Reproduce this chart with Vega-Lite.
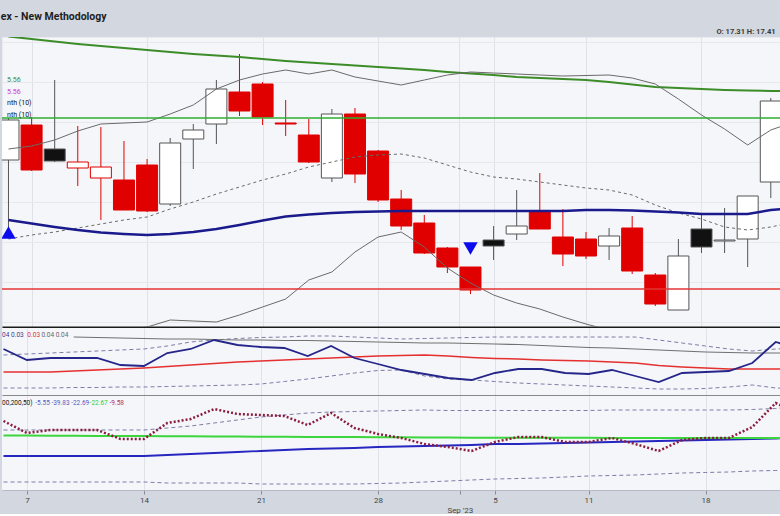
{
  "$schema": "https://vega.github.io/schema/vega-lite/v6.json",
  "background": "#d3d7df",
  "padding": {"top": 12, "left": 0, "right": 0, "bottom": 0},
  "title": {"text": "ex - New Methodology", "anchor": "start", "fontSize": 10.5, "fontWeight": "bold", "color": "#1e1e1e", "font": "Roboto", "offset": 4},
  "config": {"font": "Roboto", "view": {"stroke": null}},
  "spacing": 0,
  "datasets": {
    "main": [
      {"i":0,"o":16.25,"h":17.3,"l":14.575,"c":17.25,"col":"black","fill":"hollow","ma200":19.3375,"bbu":16.525,"bbm":14.275,"bbl":11.95,"ma50":14.75,"sig":"up","sigv":14.4375},
      {"i":1,"o":17.125,"h":17.325,"l":15.975,"c":16.0,"col":"red","fill":"red","ma200":19.275,"bbu":16.6,"bbm":14.375,"bbl":12.0,"ma50":14.6625},
      {"i":2,"o":16.525,"h":18.25,"l":16.2,"c":16.225,"col":"black","fill":"black","ma200":19.2125,"bbu":16.75,"bbm":14.45,"bbl":11.975,"ma50":14.575},
      {"i":3,"o":16.05,"h":17.1,"l":15.6,"c":16.2,"col":"red","fill":"hollow","ma200":19.15,"bbu":16.975,"bbm":14.55,"bbl":11.95,"ma50":14.5},
      {"i":4,"o":15.8,"h":17.075,"l":14.75,"c":16.075,"col":"red","fill":"hollow","ma200":19.1,"bbu":17.15,"bbm":14.65,"bbl":12.0,"ma50":14.4375},
      {"i":5,"o":15.75,"h":16.725,"l":15.0,"c":15.0,"col":"red","fill":"red","ma200":19.05,"bbu":17.175,"bbm":14.75,"bbl":12.025,"ma50":14.4},
      {"i":6,"o":16.125,"h":16.275,"l":14.95,"c":14.975,"col":"red","fill":"red","ma200":19.0,"bbu":17.2,"bbm":14.825,"bbl":12.075,"ma50":14.375},
      {"i":7,"o":15.15,"h":16.8,"l":15.1,"c":16.675,"col":"black","fill":"hollow","ma200":18.95,"bbu":17.4,"bbm":15.025,"bbl":12.25,"ma50":14.4},
      {"i":8,"o":16.775,"h":17.15,"l":16.025,"c":17.0,"col":"black","fill":"hollow","ma200":18.9,"bbu":17.625,"bbm":15.2,"bbl":12.225,"ma50":14.45},
      {"i":9,"o":17.15,"h":18.25,"l":16.65,"c":18.025,"col":"black","fill":"hollow","ma200":18.8625,"bbu":18.025,"bbm":15.4,"bbl":12.2,"ma50":14.525},
      {"i":10,"o":17.95,"h":18.9,"l":17.35,"c":17.475,"col":"red","fill":"red","ma200":18.825,"bbu":18.25,"bbm":15.575,"bbl":12.375,"ma50":14.625},
      {"i":11,"o":18.15,"h":18.2,"l":17.125,"c":17.325,"col":"red","fill":"red","ma200":18.775,"bbu":18.4,"bbm":15.75,"bbl":12.575,"ma50":14.7375},
      {"i":12,"o":17.175,"h":17.75,"l":16.85,"c":17.15,"col":"red","fill":"red","ma200":18.725,"bbu":18.5,"bbm":15.9,"bbl":12.775,"ma50":14.8375},
      {"i":13,"o":16.875,"h":17.275,"l":16.175,"c":16.2,"col":"red","fill":"red","ma200":18.6875,"bbu":18.4,"bbm":16.075,"bbl":13.25,"ma50":14.8875},
      {"i":14,"o":15.8,"h":17.525,"l":15.7,"c":17.4,"col":"black","fill":"hollow","ma200":18.65,"bbu":18.5,"bbm":16.2,"bbl":13.45,"ma50":14.925},
      {"i":15,"o":17.4,"h":17.55,"l":15.675,"c":15.9,"col":"red","fill":"red","ma200":18.6125,"bbu":18.325,"bbm":16.325,"bbl":13.95,"ma50":14.95},
      {"i":16,"o":16.475,"h":16.5,"l":15.2,"c":15.25,"col":"red","fill":"red","ma200":18.575,"bbu":18.225,"bbm":16.375,"bbl":14.325,"ma50":14.9625},
      {"i":17,"o":15.275,"h":15.5,"l":14.5,"c":14.6,"col":"red","fill":"red","ma200":18.5375,"bbu":18.125,"bbm":16.4,"bbl":14.45,"ma50":14.975},
      {"i":18,"o":14.675,"h":14.875,"l":13.9,"c":13.925,"col":"red","fill":"red","ma200":18.5,"bbu":18.25,"bbm":16.3,"bbl":14.075,"ma50":14.975},
      {"i":19,"o":14.05,"h":14.075,"l":13.425,"c":13.575,"col":"red","fill":"red","ma200":18.45,"bbu":18.375,"bbm":16.125,"bbl":13.55,"ma50":14.975},
      {"i":20,"o":13.575,"h":13.575,"l":12.9,"c":13.0,"col":"red","fill":"red","ma200":18.4125,"bbu":18.45,"bbm":15.95,"bbl":13.175,"ma50":14.975,"sig":"down","sigv":14.0375},
      {"i":21,"o":14.25,"h":14.6,"l":13.75,"c":14.1,"col":"black","fill":"black","ma200":18.375,"bbu":18.425,"bbm":15.825,"bbl":12.875,"ma50":14.975},
      {"i":22,"o":14.4,"h":15.5,"l":14.25,"c":14.6,"col":"black","fill":"hollow","ma200":18.325,"bbu":18.4,"bbm":15.775,"bbl":12.675,"ma50":14.975},
      {"i":23,"o":14.975,"h":15.925,"l":14.525,"c":14.525,"col":"red","fill":"red","ma200":18.3,"bbu":18.375,"bbm":15.7,"bbl":12.525,"ma50":14.975},
      {"i":24,"o":14.325,"h":15.025,"l":13.6,"c":13.9,"col":"red","fill":"red","ma200":18.275,"bbu":18.35,"bbm":15.625,"bbl":12.325,"ma50":14.975},
      {"i":25,"o":14.275,"h":14.45,"l":13.775,"c":13.85,"col":"red","fill":"red","ma200":18.25,"bbu":18.3625,"bbm":15.55,"bbl":12.15,"ma50":15.0},
      {"i":26,"o":14.1,"h":14.55,"l":13.75,"c":14.35,"col":"black","fill":"hollow","ma200":18.2,"bbu":18.375,"bbm":15.5,"bbl":12.0,"ma50":15.0},
      {"i":27,"o":14.55,"h":14.85,"l":13.4,"c":13.475,"col":"red","fill":"red","ma200":18.1375,"bbu":18.3,"bbm":15.375,"bbl":11.875,"ma50":14.9875},
      {"i":28,"o":13.375,"h":13.425,"l":12.6,"c":12.65,"col":"red","fill":"red","ma200":18.075,"bbu":18.15,"bbm":15.125,"bbl":11.75,"ma50":14.9625},
      {"i":29,"o":12.5,"h":14.275,"l":12.5,"c":13.85,"col":"black","fill":"hollow","ma200":18.05,"bbu":17.775,"bbm":14.925,"bbl":11.875,"ma50":14.9375},
      {"i":30,"o":14.525,"h":14.9,"l":13.925,"c":14.075,"col":"black","fill":"black","ma200":18.025,"bbu":17.375,"bbm":14.775,"bbl":12.0,"ma50":14.9},
      {"i":31,"o":14.225,"h":15.05,"l":13.925,"c":14.25,"col":"black","fill":"hollow","ma200":18.0,"bbu":17.025,"bbm":14.575,"bbl":12.0,"ma50":14.9},
      {"i":32,"o":14.275,"h":15.35,"l":13.575,"c":15.35,"col":"black","fill":"hollow","ma200":17.9875,"bbu":16.625,"bbm":14.5,"bbl":12.05,"ma50":14.9},
      {"i":33,"o":15.7,"h":17.8,"l":15.3,"c":17.725,"col":"black","fill":"hollow","ma200":17.975,"bbu":17.0,"bbm":14.575,"bbl":12.0,"ma50":15.0},
      {"i":34,"ma200":17.97,"bbu":17.2,"bbm":14.7,"bbl":11.9,"ma50":15.05}
    ],
    "p2": [
      {"i":0,"nv":0.040,"rd":0.0285,"du":0.037,"dl":0.0205},
      {"i":1,"nv":0.0345,"rd":0.0285,"du":0.0375,"dl":0.0205},
      {"i":2,"nv":0.0355,"rd":0.0285,"du":0.038,"dl":0.0205},
      {"i":3,"nv":0.0355,"rd":0.029,"gy":0.046,"du":0.0385,"dl":0.02075},
      {"i":4,"nv":0.0355,"rd":0.0295,"gy":0.04575,"du":0.039,"dl":0.02075},
      {"i":5,"nv":0.032,"rd":0.030,"gy":0.0455,"du":0.0395,"dl":0.021},
      {"i":6,"nv":0.0315,"rd":0.0305,"gy":0.04525,"du":0.040,"dl":0.021},
      {"i":7,"nv":0.038,"rd":0.03125,"gy":0.045,"du":0.0415,"dl":0.02125},
      {"i":8,"nv":0.040,"rd":0.032,"gy":0.045,"du":0.0435,"dl":0.0215},
      {"i":9,"nv":0.0445,"rd":0.03275,"gy":0.04475,"du":0.0445,"dl":0.02175},
      {"i":10,"nv":0.042,"rd":0.0335,"gy":0.0445,"du":0.04525,"dl":0.022},
      {"i":11,"nv":0.041,"rd":0.034,"gy":0.0445,"du":0.04575,"dl":0.0225},
      {"i":12,"nv":0.0405,"rd":0.0345,"gy":0.04425,"du":0.046,"dl":0.02375},
      {"i":13,"nv":0.0365,"rd":0.035,"gy":0.04425,"du":0.0465,"dl":0.025},
      {"i":14,"nv":0.0415,"rd":0.0355,"gy":0.044,"du":0.0465,"dl":0.0265},
      {"i":15,"nv":0.0355,"rd":0.036,"gy":0.04375,"du":0.046,"dl":0.028},
      {"i":16,"nv":0.0325,"rd":0.0365,"gy":0.0435,"du":0.0455,"dl":0.02925},
      {"i":17,"nv":0.0295,"rd":0.03675,"gy":0.04325,"du":0.045,"dl":0.0295},
      {"i":18,"nv":0.0275,"rd":0.037,"gy":0.043,"du":0.04525,"dl":0.0265},
      {"i":19,"nv":0.0255,"rd":0.0365,"gy":0.043,"du":0.0455,"dl":0.025},
      {"i":20,"nv":0.0245,"rd":0.03575,"gy":0.04275,"du":0.04575,"dl":0.0245},
      {"i":21,"nv":0.028,"rd":0.03525,"gy":0.0425,"du":0.046,"dl":0.02375},
      {"i":22,"nv":0.030,"rd":0.035,"gy":0.04225,"du":0.046,"dl":0.023},
      {"i":23,"nv":0.030,"rd":0.0345,"gy":0.04175,"du":0.046,"dl":0.0225},
      {"i":24,"nv":0.028,"rd":0.03425,"gy":0.04125,"du":0.046,"dl":0.022},
      {"i":25,"nv":0.0275,"rd":0.034,"gy":0.04075,"du":0.046,"dl":0.0215},
      {"i":26,"nv":0.0295,"rd":0.0335,"gy":0.0405,"du":0.046,"dl":0.021},
      {"i":27,"nv":0.0265,"rd":0.033,"gy":0.040,"du":0.046,"dl":0.0205},
      {"i":28,"nv":0.0235,"rd":0.03175,"gy":0.0395,"du":0.0445,"dl":0.020},
      {"i":29,"nv":0.028,"rd":0.031,"gy":0.039,"du":0.043,"dl":0.020},
      {"i":30,"nv":0.0285,"rd":0.0305,"gy":0.0385,"du":0.0415,"dl":0.02025},
      {"i":31,"nv":0.029,"rd":0.030,"gy":0.03825,"du":0.040,"dl":0.021},
      {"i":32,"nv":0.033,"rd":0.030,"gy":0.038,"du":0.039,"dl":0.022},
      {"i":33,"nv":0.0435,"rd":0.030,"gy":0.038,"du":0.040,"dl":0.0205},
      {"i":34,"nv":0.040,"rd":0.030,"gy":0.038,"du":0.0405,"dl":0.020}
    ],
    "p3": [
      {"i":0,"dot":-13.56,"gr":-21.3,"bl":-32.32,"du":-18.38,"dl":-46.25},
      {"i":1,"dot":-19.99,"gr":-21.36,"bl":-32.32,"du":-18.38,"dl":-46.25},
      {"i":2,"dot":-18.38,"gr":-21.42,"bl":-32.32,"du":-18.38,"dl":-46.25},
      {"i":3,"dot":-18.38,"gr":-21.48,"bl":-32.32,"du":-18.38,"dl":-46.25},
      {"i":4,"dot":-18.38,"gr":-21.54,"bl":-32.32,"du":-18.38,"dl":-46.25},
      {"i":5,"dot":-23.21,"gr":-21.6,"bl":-32.32,"du":-18.38,"dl":-46.25},
      {"i":6,"dot":-23.21,"gr":-21.66,"bl":-32.32,"du":-18.38,"dl":-46.25},
      {"i":7,"dot":-14.63,"gr":-21.72,"bl":-31.78,"du":-17.31,"dl":-46.79},
      {"i":8,"dot":-12.49,"gr":-21.78,"bl":-31.25,"du":-16.24,"dl":-46.79},
      {"i":9,"dot":-7.13,"gr":-21.84,"bl":-30.71,"du":-14.63,"dl":-46.79},
      {"i":10,"dot":-9.81,"gr":-21.9,"bl":-30.17,"du":-13.02,"dl":-46.79},
      {"i":11,"dot":-10.34,"gr":-21.96,"bl":-29.64,"du":-11.41,"dl":-47.33},
      {"i":12,"dot":-10.88,"gr":-22.02,"bl":-29.1,"du":-10.34,"dl":-47.33},
      {"i":13,"dot":-15.7,"gr":-22.08,"bl":-28.57,"du":-9.27,"dl":-47.33},
      {"i":14,"dot":-9.27,"gr":-22.14,"bl":-28.3,"du":-8.73,"dl":-47.33},
      {"i":15,"dot":-17.31,"gr":-22.2,"bl":-28.03,"du":-8.47,"dl":-47.33},
      {"i":16,"dot":-20.53,"gr":-22.26,"bl":-27.49,"du":-8.2,"dl":-47.06},
      {"i":17,"dot":-22.67,"gr":-22.32,"bl":-27.23,"du":-7.93,"dl":-46.79},
      {"i":18,"dot":-25.89,"gr":-22.38,"bl":-26.96,"du":-7.66,"dl":-46.25},
      {"i":19,"dot":-27.49,"gr":-22.44,"bl":-26.69,"du":-7.93,"dl":-45.72},
      {"i":20,"dot":-29.64,"gr":-22.5,"bl":-26.42,"du":-7.93,"dl":-45.18},
      {"i":21,"dot":-24.81,"gr":-22.52,"bl":-25.89,"du":-7.93,"dl":-44.65},
      {"i":22,"dot":-22.13,"gr":-22.54,"bl":-25.89,"du":-7.93,"dl":-44.38},
      {"i":23,"dot":-22.13,"gr":-22.56,"bl":-25.62,"du":-7.93,"dl":-44.11},
      {"i":24,"dot":-24.81,"gr":-22.58,"bl":-25.35,"du":-7.93,"dl":-43.57},
      {"i":25,"dot":-24.81,"gr":-22.6,"bl":-25.08,"du":-7.93,"dl":-43.04},
      {"i":26,"dot":-22.67,"gr":-22.61,"bl":-24.81,"du":-7.66,"dl":-42.77},
      {"i":27,"dot":-25.89,"gr":-22.62,"bl":-24.55,"du":-7.66,"dl":-42.5},
      {"i":28,"dot":-29.64,"gr":-22.63,"bl":-24.28,"du":-7.66,"dl":-41.97},
      {"i":29,"dot":-23.74,"gr":-22.64,"bl":-24.01,"du":-7.66,"dl":-41.43},
      {"i":30,"dot":-22.67,"gr":-22.65,"bl":-23.74,"du":-7.66,"dl":-41.16},
      {"i":31,"dot":-22.67,"gr":-22.66,"bl":-23.47,"du":-7.66,"dl":-40.89},
      {"i":32,"dot":-16.77,"gr":-22.66,"bl":-23.21,"du":-7.39,"dl":-40.36},
      {"i":33,"dot":-3.91,"gr":-22.67,"bl":-22.94,"du":-6.86,"dl":-40.09},
      {"i":34,"dot":-9.58,"gr":-22.67,"bl":-22.69,"du":-5.55,"dl":-39.83}
    ],
    "levels": [
      {"lvl": 17.3, "k": "g"},
      {"lvl": 13.025, "k": "r"}
    ],
    "notes": [
      {"p":1,"i":-0.06,"v":18.25,"t":"5.56","k":"g"},
      {"p":1,"i":-0.06,"v":17.95,"t":"5.56","k":"m"},
      {"p":1,"i":-0.06,"v":17.675,"t":"nth (10)","k":"k"},
      {"p":1,"i":-0.06,"v":17.375,"t":"nth (10)","k":"k"},
      {"p":2,"i":-0.06,"v":0.047,"t":"04 0.03","k":"n"},
      {"p":2,"i":1.02,"v":0.047,"t":"0.03","k":"r"},
      {"p":2,"i":1.62,"v":0.047,"t":"0.04 0.04","k":"gy"},
      {"p":3,"i":-0.06,"v":-3.91,"t":"00,200,50)","k":"k"},
      {"p":3,"i":1.36,"v":-3.91,"t":"-5.55 -39.83 -22.69","k":"b"},
      {"p":3,"i":3.68,"v":-3.91,"t":"-22.67","k":"gr"},
      {"p":3,"i":4.53,"v":-3.91,"t":"-9.58","k":"pk"}
    ]
  },
  "vconcat": [
    {
      "width": 780,
      "height": 290,
      "view": {"fill": "#f5f6fa", "stroke": "#e9ebf0"},
      "resolve": {"axis": {"x": "independent", "y": "independent"}},
      "layer": [
        {
          "data": {"name": "main"},
          "transform": [{"filter": "datum.o != null"}],
          "mark": {"type": "rule", "clip": true, "strokeWidth": 1},
          "encoding": {
            "x": {"field": "i", "type": "quantitative", "scale": {"domain": [-0.0641, 33.269], "nice": false, "zero": false},
                  "axis": {"orient": "bottom", "values": [1, 6, 11, 16, 19.5, 21, 25, 30], "grid": true, "gridColor": "#dfe2e9", "labels": false, "ticks": false, "domain": true, "domainColor": "#1b1b1b", "domainWidth": 2, "title": null}},
            "y": {"field": "l", "type": "quantitative", "scale": {"domain": [12.075, 19.325], "nice": false, "zero": false},
                  "axis": {"title": null, "labels": false, "ticks": false, "domain": false, "grid": true, "gridColor": "#e6e8ee", "values": [12.2, 13.2, 14.2, 15.2, 16.2, 17.2, 18.2, 19.2]}},
            "y2": {"field": "h"},
            "stroke": {"field": "col", "type": "nominal", "scale": {"domain": ["red", "black"], "range": ["#e00000", "#555555"]}, "legend": null}
          }
        },
        {
          "data": {"name": "main"},
          "transform": [{"filter": "datum.o != null"}],
          "mark": {"type": "bar", "clip": true, "size": 21, "strokeWidth": 1, "orient": "vertical"},
          "encoding": {
            "x": {"field": "i", "type": "quantitative", "scale": {"domain": [-0.0641, 33.269], "nice": false, "zero": false}, "axis": null},
            "y": {"field": "o", "type": "quantitative", "scale": {"domain": [12.075, 19.325], "nice": false, "zero": false}, "axis": null},
            "y2": {"field": "c"},
            "fill": {"field": "fill", "type": "nominal", "scale": {"domain": ["red", "black", "hollow"], "range": ["#e00000", "#111111", "#ffffff"]}, "legend": null},
            "stroke": {"field": "col", "type": "nominal", "scale": {"domain": ["red", "black"], "range": ["#e00000", "#555555"]}, "legend": null}
          }
        },
        {
          "data": {"name": "main"},
          "mark": {"type": "line", "clip": true, "stroke": "#3c8c28", "strokeWidth": 2},
          "encoding": {
            "x": {"field": "i", "type": "quantitative", "scale": {"domain": [-0.0641, 33.269], "nice": false, "zero": false},
                  "axis": {"orient": "top", "grid": false, "labels": false, "ticks": false, "domain": false, "title": "O: 17.31   H: 17.41", "titleFont": "Roboto", "titleFontSize": 7.5, "titleFontWeight": "bold", "titleColor": "#3a3a3a", "titleAnchor": "end", "titleAlign": "right", "titleX": 773, "titlePadding": 2}},
            "y": {"field": "ma200", "type": "quantitative", "scale": {"domain": [12.075, 19.325], "nice": false, "zero": false}, "axis": null}
          }
        },
        {
          "data": {"name": "main"},
          "mark": {"type": "line", "clip": true, "stroke": "#6a6a6a", "strokeWidth": 1},
          "encoding": {
            "x": {"field": "i", "type": "quantitative", "scale": {"domain": [-0.0641, 33.269], "nice": false, "zero": false}, "axis": null},
            "y": {"field": "bbu", "type": "quantitative", "scale": {"domain": [12.075, 19.325], "nice": false, "zero": false}, "axis": null}
          }
        },
        {
          "data": {"name": "main"},
          "mark": {"type": "line", "clip": true, "stroke": "#6a6a6a", "strokeWidth": 1, "strokeDash": [3, 3]},
          "encoding": {
            "x": {"field": "i", "type": "quantitative", "scale": {"domain": [-0.0641, 33.269], "nice": false, "zero": false}, "axis": null},
            "y": {"field": "bbm", "type": "quantitative", "scale": {"domain": [12.075, 19.325], "nice": false, "zero": false}, "axis": null}
          }
        },
        {
          "data": {"name": "main"},
          "mark": {"type": "line", "clip": true, "stroke": "#6a6a6a", "strokeWidth": 1},
          "encoding": {
            "x": {"field": "i", "type": "quantitative", "scale": {"domain": [-0.0641, 33.269], "nice": false, "zero": false}, "axis": null},
            "y": {"field": "bbl", "type": "quantitative", "scale": {"domain": [12.075, 19.325], "nice": false, "zero": false}, "axis": null}
          }
        },
        {
          "data": {"name": "main"},
          "mark": {"type": "line", "clip": true, "stroke": "#1a1a8c", "strokeWidth": 2.5},
          "encoding": {
            "x": {"field": "i", "type": "quantitative", "scale": {"domain": [-0.0641, 33.269], "nice": false, "zero": false}, "axis": null},
            "y": {"field": "ma50", "type": "quantitative", "scale": {"domain": [12.075, 19.325], "nice": false, "zero": false}, "axis": null}
          }
        },
        {
          "data": {"name": "levels"},
          "transform": [{"filter": "datum.k == 'g'"}],
          "mark": {"type": "rule", "stroke": "#2fae2f", "strokeWidth": 1.5},
          "encoding": {
            "y": {"field": "lvl", "type": "quantitative", "scale": {"domain": [12.075, 19.325], "nice": false, "zero": false}, "axis": null}
          }
        },
        {
          "data": {"name": "levels"},
          "transform": [{"filter": "datum.k == 'r'"}],
          "mark": {"type": "rule", "stroke": "#e53535", "strokeWidth": 1.5},
          "encoding": {
            "y": {"field": "lvl", "type": "quantitative", "scale": {"domain": [12.075, 19.325], "nice": false, "zero": false}, "axis": null}
          }
        },
        {
          "data": {"name": "main"},
          "transform": [{"filter": "datum.sig != null"}],
          "mark": {"type": "point", "filled": true, "fill": "#0b0bef", "opacity": 1, "size": 210, "strokeWidth": 0, "clip": true},
          "encoding": {
            "x": {"field": "i", "type": "quantitative", "scale": {"domain": [-0.0641, 33.269], "nice": false, "zero": false}, "axis": null},
            "y": {"field": "sigv", "type": "quantitative", "scale": {"domain": [12.075, 19.325], "nice": false, "zero": false}, "axis": null},
            "shape": {"field": "sig", "type": "nominal", "scale": {"domain": ["up", "down"], "range": ["triangle-up", "triangle-down"]}, "legend": null}
          }
        },
        {
          "data": {"name": "notes"},
          "transform": [{"filter": "datum.p == 1"}],
          "mark": {"type": "text", "align": "left", "baseline": "middle", "fontSize": 7, "font": "Roboto", "clip": true},
          "encoding": {
            "x": {"field": "i", "type": "quantitative", "scale": {"domain": [-0.0641, 33.269], "nice": false, "zero": false}, "axis": null},
            "y": {"field": "v", "type": "quantitative", "scale": {"domain": [12.075, 19.325], "nice": false, "zero": false}, "axis": null},
            "text": {"field": "t"},
            "color": {"field": "k", "type": "nominal", "scale": {"domain": ["g", "m", "k", "n", "r", "gy", "b", "gr", "pk"], "range": ["#3c8c28", "#cc33cc", "#111111", "#3d3d8f", "#e03030", "#666666", "#5a5ac0", "#33cc33", "#b03060"]}, "legend": null}
          }
        }
      ]
    },
    {
      "width": 780,
      "height": 68,
      "view": {"fill": "#f5f6fa", "stroke": null},
      "resolve": {"axis": {"x": "independent"}},
      "layer": [
        {
          "data": {"name": "p2"},
          "mark": {"type": "line", "clip": true, "stroke": "#7c7ca8", "strokeWidth": 1, "strokeDash": [4, 3]},
          "encoding": {
            "x": {"field": "i", "type": "quantitative", "scale": {"domain": [-0.0641, 33.269], "nice": false, "zero": false},
                  "axis": {"orient": "bottom", "values": [1, 6, 11, 16, 19.5, 21, 25, 30], "grid": true, "gridColor": "#dfe2e9", "labels": false, "ticks": false, "domain": true, "domainColor": "#1b1b1b", "domainWidth": 2, "title": null}},
            "y": {"field": "du", "type": "quantitative", "scale": {"domain": [0.0165, 0.0505], "nice": false, "zero": false}, "axis": null}
          }
        },
        {
          "data": {"name": "p2"},
          "mark": {"type": "line", "clip": true, "stroke": "#7c7ca8", "strokeWidth": 1, "strokeDash": [4, 3]},
          "encoding": {
            "x": {"field": "i", "type": "quantitative", "scale": {"domain": [-0.0641, 33.269], "nice": false, "zero": false}, "axis": null},
            "y": {"field": "dl", "type": "quantitative", "scale": {"domain": [0.0165, 0.0505], "nice": false, "zero": false}, "axis": null}
          }
        },
        {
          "data": {"name": "p2"},
          "mark": {"type": "line", "clip": true, "stroke": "#707070", "strokeWidth": 1.2},
          "encoding": {
            "x": {"field": "i", "type": "quantitative", "scale": {"domain": [-0.0641, 33.269], "nice": false, "zero": false}, "axis": null},
            "y": {"field": "gy", "type": "quantitative", "scale": {"domain": [0.0165, 0.0505], "nice": false, "zero": false}, "axis": null}
          }
        },
        {
          "data": {"name": "p2"},
          "mark": {"type": "line", "clip": true, "stroke": "#e53030", "strokeWidth": 1.6},
          "encoding": {
            "x": {"field": "i", "type": "quantitative", "scale": {"domain": [-0.0641, 33.269], "nice": false, "zero": false}, "axis": null},
            "y": {"field": "rd", "type": "quantitative", "scale": {"domain": [0.0165, 0.0505], "nice": false, "zero": false}, "axis": null}
          }
        },
        {
          "data": {"name": "p2"},
          "mark": {"type": "line", "clip": true, "stroke": "#25258a", "strokeWidth": 1.8},
          "encoding": {
            "x": {"field": "i", "type": "quantitative", "scale": {"domain": [-0.0641, 33.269], "nice": false, "zero": false}, "axis": null},
            "y": {"field": "nv", "type": "quantitative", "scale": {"domain": [0.0165, 0.0505], "nice": false, "zero": false}, "axis": null}
          }
        },
        {
          "data": {"name": "notes"},
          "transform": [{"filter": "datum.p == 2"}],
          "mark": {"type": "text", "align": "left", "baseline": "middle", "fontSize": 6.5, "font": "Roboto", "clip": true},
          "encoding": {
            "x": {"field": "i", "type": "quantitative", "scale": {"domain": [-0.0641, 33.269], "nice": false, "zero": false}, "axis": null},
            "y": {"field": "v", "type": "quantitative", "scale": {"domain": [0.0165, 0.0505], "nice": false, "zero": false}, "axis": null},
            "text": {"field": "t"},
            "color": {"field": "k", "type": "nominal", "scale": {"domain": ["g", "m", "k", "n", "r", "gy", "b", "gr", "pk"], "range": ["#3c8c28", "#cc33cc", "#111111", "#3d3d8f", "#e03030", "#666666", "#5a5ac0", "#33cc33", "#b03060"]}, "legend": null}
          }
        }
      ]
    },
    {
      "width": 780,
      "height": 94,
      "view": {"fill": "#f5f6fa", "stroke": null},
      "resolve": {"axis": {"x": "independent"}},
      "layer": [
        {
          "data": {"name": "p3"},
          "mark": {"type": "line", "clip": true, "stroke": "#7c7ca8", "strokeWidth": 1, "strokeDash": [4, 3]},
          "encoding": {
            "x": {"field": "i", "type": "quantitative", "scale": {"domain": [-0.0641, 33.269], "nice": false, "zero": false},
                  "axis": {"orient": "bottom", "values": [1, 6, 11, 16, 19.5, 21, 25, 30], "grid": true, "gridColor": "#dfe2e9", "labels": true,
                           "labelExpr": "datum.value == 1 ? '7' : datum.value == 6 ? '14' : datum.value == 11 ? '21' : datum.value == 16 ? '28' : datum.value == 19.5 ? ['', \"Sep '23\"] : datum.value == 21 ? '5' : datum.value == 25 ? '11' : '18'",
                           "labelFontSize": 8, "labelColor": "#444444", "labelFont": "Roboto", "labelPadding": 2, "labelLineHeight": 10, "labelOverlap": false, "labelFlush": false,
                           "ticks": true, "tickSize": 4, "tickColor": "#8a8f99", "domain": true, "domainColor": "#b5bac4", "domainWidth": 1, "title": null}},
            "y": {"field": "du", "type": "quantitative", "scale": {"domain": [-50.542, -0.158], "nice": false, "zero": false}, "axis": null}
          }
        },
        {
          "data": {"name": "p3"},
          "mark": {"type": "line", "clip": true, "stroke": "#7c7ca8", "strokeWidth": 1, "strokeDash": [4, 3]},
          "encoding": {
            "x": {"field": "i", "type": "quantitative", "scale": {"domain": [-0.0641, 33.269], "nice": false, "zero": false}, "axis": null},
            "y": {"field": "dl", "type": "quantitative", "scale": {"domain": [-50.542, -0.158], "nice": false, "zero": false}, "axis": null}
          }
        },
        {
          "data": {"name": "p3"},
          "mark": {"type": "line", "clip": true, "stroke": "#2626c0", "strokeWidth": 1.8},
          "encoding": {
            "x": {"field": "i", "type": "quantitative", "scale": {"domain": [-0.0641, 33.269], "nice": false, "zero": false}, "axis": null},
            "y": {"field": "bl", "type": "quantitative", "scale": {"domain": [-50.542, -0.158], "nice": false, "zero": false}, "axis": null}
          }
        },
        {
          "data": {"name": "p3"},
          "mark": {"type": "line", "clip": true, "stroke": "#3cd63c", "strokeWidth": 2},
          "encoding": {
            "x": {"field": "i", "type": "quantitative", "scale": {"domain": [-0.0641, 33.269], "nice": false, "zero": false}, "axis": null},
            "y": {"field": "gr", "type": "quantitative", "scale": {"domain": [-50.542, -0.158], "nice": false, "zero": false}, "axis": null}
          }
        },
        {
          "data": {"name": "p3"},
          "mark": {"type": "line", "clip": true, "stroke": "#8a1c3c", "strokeWidth": 2.5, "strokeDash": [2, 2]},
          "encoding": {
            "x": {"field": "i", "type": "quantitative", "scale": {"domain": [-0.0641, 33.269], "nice": false, "zero": false}, "axis": null},
            "y": {"field": "dot", "type": "quantitative", "scale": {"domain": [-50.542, -0.158], "nice": false, "zero": false}, "axis": null}
          }
        },
        {
          "data": {"name": "notes"},
          "transform": [{"filter": "datum.p == 3"}],
          "mark": {"type": "text", "align": "left", "baseline": "middle", "fontSize": 6.5, "font": "Roboto", "clip": true},
          "encoding": {
            "x": {"field": "i", "type": "quantitative", "scale": {"domain": [-0.0641, 33.269], "nice": false, "zero": false}, "axis": null},
            "y": {"field": "v", "type": "quantitative", "scale": {"domain": [-50.542, -0.158], "nice": false, "zero": false}, "axis": null},
            "text": {"field": "t"},
            "color": {"field": "k", "type": "nominal", "scale": {"domain": ["g", "m", "k", "n", "r", "gy", "b", "gr", "pk"], "range": ["#3c8c28", "#cc33cc", "#111111", "#3d3d8f", "#e03030", "#666666", "#5a5ac0", "#33cc33", "#b03060"]}, "legend": null}
          }
        }
      ]
    }
  ]
}
